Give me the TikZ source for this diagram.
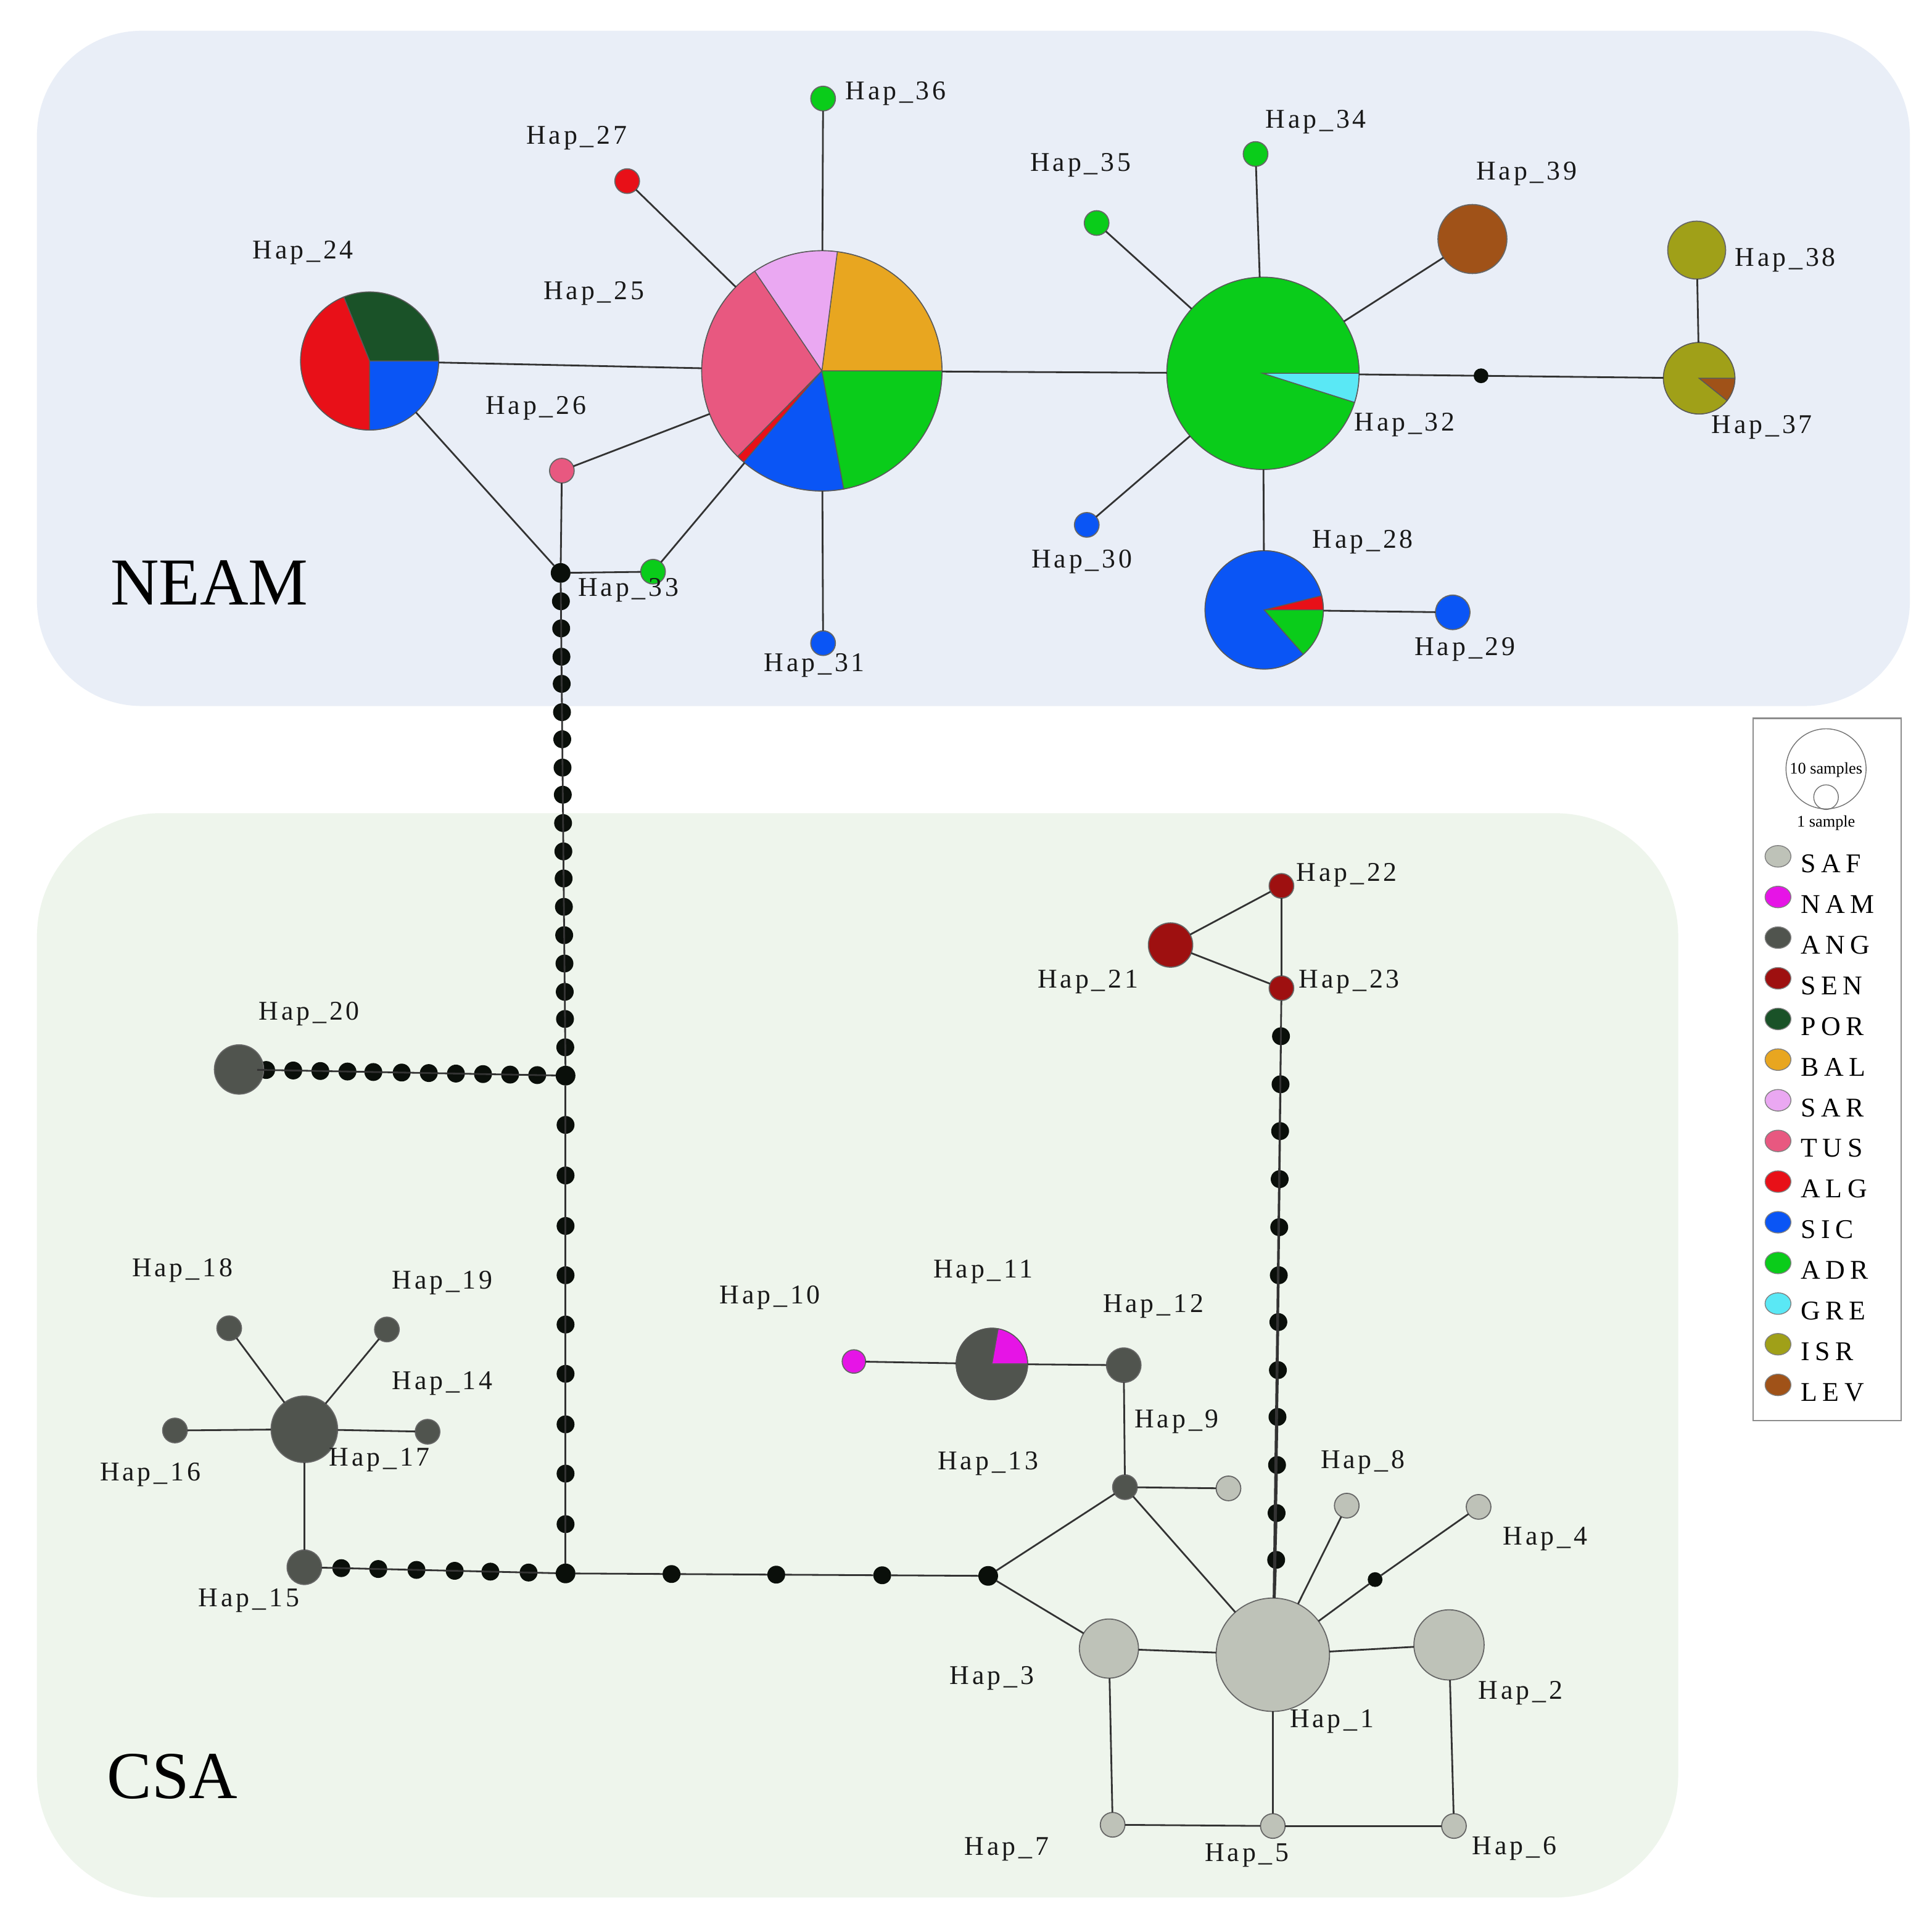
\documentclass[tikz,border=0pt]{standalone}
\usepackage{fontspec}
\setmainfont{Liberation Serif}
\newfontfamily\labfont{Liberation Serif}[LetterSpace=11]
\newfontfamily\legfont{Liberation Serif}[LetterSpace=20]
\usetikzlibrary{shapes.geometric}
\definecolor{SAF}{HTML}{BEC2B8}
\definecolor{NAM}{HTML}{E614E6}
\definecolor{ANG}{HTML}{50544E}
\definecolor{SEN}{HTML}{9E1010}
\definecolor{POR}{HTML}{1A5228}
\definecolor{BAL}{HTML}{E8A620}
\definecolor{SAR}{HTML}{EAA8F2}
\definecolor{TUS}{HTML}{E85880}
\definecolor{ALG}{HTML}{E81018}
\definecolor{SIC}{HTML}{0A55F5}
\definecolor{ADR}{HTML}{0ACC1A}
\definecolor{GRE}{HTML}{5AE8F5}
\definecolor{ISR}{HTML}{A0A018}
\definecolor{LEV}{HTML}{A05218}
\definecolor{neamfill}{HTML}{E9EEF7}
\definecolor{csafill}{HTML}{EEF5EC}
\definecolor{dotc}{HTML}{0A0F0A}
\newcommand\pieslice[5]{\filldraw[fill=#5, draw=black!65, line width=0.4pt] (#1.center) -- ++(#3:#2) arc[start angle=#3, end angle=#4, radius=#2] -- cycle;}
\begin{document}
\begin{tikzpicture}[x=0.02cm, y=-0.02cm,
  edge/.style={draw=black!80, line width=0.8pt},
  hap/.style={circle, inner sep=0pt, outer sep=0pt, draw=black!60, line width=0.5pt},
  cdot/.style={circle, inner sep=0pt, outer sep=0pt, fill=dotc, minimum size=0.29cm},
  jdot/.style={cdot, minimum size=0.32cm},
  lab/.style={font=\labfont\fontsize{12.5}{14}\selectfont, inner sep=0pt, text=black!90},
  big/.style={font=\fontsize{31}{33}\selectfont, inner sep=0pt},
]
\useasboundingbox (0,0) rectangle (1568,1557);
\fill[white] (0,0) rectangle (1568,1557);
\fill[neamfill, rounded corners=1.7cm] (30,25) rectangle (1550,573);
\fill[csafill, rounded corners=2cm] (30,660) rectangle (1362,1540);

% ---------------- NEAM nodes ----------------
\node[hap, fill=ALG, minimum size=0.4cm] (h27) at (509,147) {};
\node[hap, fill=ADR, minimum size=0.4cm] (h36) at (668,80) {};
\node[hap, fill=TUS, minimum size=0.4cm] (h26) at (456,382) {};
\node[hap, fill=ADR, minimum size=0.4cm] (h33) at (530,464) {};
\node[hap, fill=SIC, minimum size=0.4cm] (h31) at (668,522) {};
\node[hap, fill=ADR, minimum size=0.4cm] (h35) at (890,181) {};
\node[hap, fill=ADR, minimum size=0.4cm] (h34) at (1019,125) {};
\node[hap, fill=SIC, minimum size=0.4cm] (h30) at (882,426) {};
\node[hap, fill=LEV, minimum size=1.12cm] (h39) at (1195,194) {};
\node[hap, fill=SIC, minimum size=0.56cm] (h29) at (1179,497) {};
\node[hap, fill=ISR, minimum size=0.94cm] (h38) at (1377,203) {};
\node[hap, minimum size=2.24cm] (h24) at (300,293) {};
\node[hap, minimum size=3.9cm] (h25) at (667,301) {};
\node[hap, minimum size=3.12cm] (h32) at (1025,303) {};
\node[hap, minimum size=1.92cm] (h28) at (1026,495) {};
\node[hap, minimum size=1.16cm] (h37) at (1379,307) {};
\node[jdot] (j1) at (455,465) {};
\node[cdot, minimum size=0.24cm] (m1) at (1202,305) {};

% pies
\pieslice{h24}{1.12cm}{0}{112}{POR}
\pieslice{h24}{1.12cm}{112}{270}{ALG}
\pieslice{h24}{1.12cm}{270}{360}{SIC}
\pieslice{h25}{1.95cm}{0}{82.6}{BAL}
\pieslice{h25}{1.95cm}{82.6}{124}{SAR}
\pieslice{h25}{1.95cm}{124}{225.5}{TUS}
\pieslice{h25}{1.95cm}{225.5}{229.5}{ALG}
\pieslice{h25}{1.95cm}{229.5}{280.5}{SIC}
\pieslice{h25}{1.95cm}{280.5}{360}{ADR}
\pieslice{h32}{1.56cm}{0}{342.4}{ADR}
\pieslice{h32}{1.56cm}{342.4}{360}{GRE}
\pieslice{h28}{0.96cm}{0}{14}{ALG}
\pieslice{h28}{0.96cm}{14}{311.4}{SIC}
\pieslice{h28}{0.96cm}{311.4}{360}{ADR}
\pieslice{h37}{0.58cm}{0}{321.3}{ISR}
\pieslice{h37}{0.58cm}{321.3}{360}{LEV}

% NEAM edges
\draw[edge] (h24) -- (h25);
\draw[edge] (h24) -- (j1);
\draw[edge] (j1) -- (h26);
\draw[edge] (h26) -- (h25);
\draw[edge] (j1) -- (h33);
\draw[edge] (h33) -- (h25);
\draw[edge] (h27) -- (h25);
\draw[edge] (h36) -- (h25);
\draw[edge] (h31) -- (h25);
\draw[edge] (h25) -- (h32);
\draw[edge] (h35) -- (h32);
\draw[edge] (h34) -- (h32);
\draw[edge] (h39) -- (h32);
\draw[edge] (h30) -- (h32);
\draw[edge] (h28) -- (h32);
\draw[edge] (h32) -- (m1) -- (h37);
\draw[edge] (h28) -- (h29);
\draw[edge] (h37) -- (h38);

% ---------------- CSA nodes ----------------
\node[jdot] (j2) at (459,873) {};
\node[jdot] (j3) at (459,1277) {};
\node[jdot] (j4) at (802,1279) {};
\foreach \yy [count=\i] in {488,510,533,555,578,600,623,645,668,691,713,736,759,782,805,827,850}{
  \node[cdot] (v\i) at ({455+4*(\yy-465)/408},\yy) {};
}
\foreach \xx [count=\i] in {216,238,260,282,303,326,348,370,392,414,436}{
  \node[cdot] (w\i) at (\xx,{868+5*(\xx-194)/265}) {};
}
\foreach \yy [count=\i] in {913,954,995,1035,1075,1115,1156,1196,1237}{
  \node[cdot] (u\i) at (459,\yy) {};
}
\foreach \xx [count=\i] in {277,307,338,369,398,429}{
  \node[cdot] (p\i) at (\xx,{1272+5*(\xx-247)/212}) {};
}
\foreach \xx [count=\i] in {545,630,716}{
  \node[cdot] (q\i) at (\xx,{1277+2*(\xx-459)/343}) {};
}
\foreach \yy [count=\i] in {841,880,918,957,996,1035,1073,1112,1150,1189,1228,1266}{
  \node[cdot] (r\i) at ({1040-5*(\yy-802)/541},\yy) {};
}
\node[hap, fill=ANG, minimum size=0.8cm] (h20) at (194,868) {};
\node[hap, fill=SEN, minimum size=0.72cm] (h21) at (950,767) {};
\node[hap, fill=SEN, minimum size=0.4cm] (h22) at (1040,719) {};
\node[hap, fill=SEN, minimum size=0.4cm] (h23) at (1040,802) {};
\node[hap, fill=ANG, minimum size=1.08cm] (h17) at (247,1160) {};
\node[hap, fill=ANG, minimum size=0.4cm] (h18) at (186,1078) {};
\node[hap, fill=ANG, minimum size=0.4cm] (h19) at (314,1079) {};
\node[hap, fill=ANG, minimum size=0.4cm] (h16) at (142,1161) {};
\node[hap, fill=ANG, minimum size=0.4cm] (h14) at (347,1162) {};
\node[hap, fill=ANG, minimum size=0.56cm] (h15) at (247,1272) {};
\node[hap, fill=NAM, minimum size=0.38cm] (h10) at (693,1105) {};
\node[hap, minimum size=1.16cm] (h11) at (805,1107) {};
\node[hap, fill=ANG, minimum size=0.56cm] (h12) at (912,1108) {};
\node[hap, fill=ANG, minimum size=0.4cm] (h9) at (913,1207) {};
\node[hap, fill=SAF, minimum size=0.4cm] (h13) at (997,1208) {};
\node[hap, fill=SAF, minimum size=1.84cm] (h1) at (1033,1343) {};
\node[hap, fill=SAF, minimum size=1.14cm] (h2) at (1176,1335) {};
\node[hap, fill=SAF, minimum size=0.96cm] (h3) at (900,1338) {};
\node[hap, fill=SAF, minimum size=0.4cm] (h8) at (1093,1222) {};
\node[hap, fill=SAF, minimum size=0.4cm] (h4) at (1200,1223) {};
\node[cdot, minimum size=0.24cm] (m2) at (1116,1282) {};
\node[hap, fill=SAF, minimum size=0.4cm] (h7) at (903,1481) {};
\node[hap, fill=SAF, minimum size=0.4cm] (h5) at (1033,1482) {};
\node[hap, fill=SAF, minimum size=0.4cm] (h6) at (1180,1482) {};
\pieslice{h11}{0.58cm}{0}{80}{NAM}
\pieslice{h11}{0.58cm}{80}{360}{ANG}

% CSA edges
\draw[edge] (j1) \foreach \i in {1,...,17}{ -- (v\i) } -- (j2);
\draw[edge] (h20) \foreach \i in {1,...,11}{ -- (w\i) } -- (j2);
\draw[edge] (j2) \foreach \i in {1,...,9}{ -- (u\i) } -- (j3);
\draw[edge] (h15) \foreach \i in {1,...,6}{ -- (p\i) } -- (j3);
\draw[edge] (j3) -- (q1) -- (q2) -- (q3) -- (j4);
\draw[edge] (h1) \foreach \i in {12,11,...,1}{ -- (r\i) } -- (h23);
\draw[edge] (h23) -- (h22);
\draw[edge] (h21) -- (h22);
\draw[edge] (h21) -- (h23);
\draw[edge] (h17) -- (h18);
\draw[edge] (h17) -- (h19);
\draw[edge] (h17) -- (h16);
\draw[edge] (h17) -- (h14);
\draw[edge] (h17) -- (h15);
\draw[edge] (j4) -- (h9);
\draw[edge] (j4) -- (h3);
\draw[edge] (h9) -- (h12);
\draw[edge] (h9) -- (h13);
\draw[edge] (h9) -- (h1);
\draw[edge] (h12) -- (h11);
\draw[edge] (h11) -- (h10);
\draw[edge] (h3) -- (h1);
\draw[edge] (h1) -- (h2);
\draw[edge] (h1) -- (h8);
\draw[edge] (h1) -- (m2) -- (h4);
\draw[edge] (h1) -- (h5);
\draw[edge] (h3) -- (h7);
\draw[edge] (h7) -- (h5);
\draw[edge] (h5) -- (h6);
\draw[edge] (h6) -- (h2);

% ---------------- labels ----------------
\node[lab] (t27) at (468,112) {Hap\_27};
\node[lab] (t36) at (727,76) {Hap\_36};
\node[lab] (t24) at (246,205) {Hap\_24};
\node[lab] (t25) at (482,238) {Hap\_25};
\node[lab] (t26) at (435,331) {Hap\_26};
\node[lab] (t33) at (510,479) {Hap\_33};
\node[lab] (t31) at (661,540) {Hap\_31};
\node[lab] (t35) at (877,134) {Hap\_35};
\node[lab] (t34) at (1068,99) {Hap\_34};
\node[lab] (t39) at (1239,141) {Hap\_39};
\node[lab] (t38) at (1449,211) {Hap\_38};
\node[lab] (t32) at (1140,345) {Hap\_32};
\node[lab] (t37) at (1430,347) {Hap\_37};
\node[lab] (t30) at (878,456) {Hap\_30};
\node[lab] (t28) at (1106,440) {Hap\_28};
\node[lab] (t29) at (1189,527) {Hap\_29};
\node[lab] (t20) at (251,823) {Hap\_20};
\node[lab] (t22) at (1093,710) {Hap\_22};
\node[lab] (t21) at (883,797) {Hap\_21};
\node[lab] (t23) at (1095,797) {Hap\_23};
\node[lab] (t18) at (148,1031) {Hap\_18};
\node[lab] (t19) at (359,1041) {Hap\_19};
\node[lab] (t14) at (359,1123) {Hap\_14};
\node[lab] (t16) at (122,1197) {Hap\_16};
\node[lab] (t17) at (308,1185) {Hap\_17};
\node[lab] (t15) at (202,1299) {Hap\_15};
\node[lab] (t10) at (625,1053) {Hap\_10};
\node[lab] (t11) at (798,1032) {Hap\_11};
\node[lab] (t12) at (936,1060) {Hap\_12};
\node[lab] (t9) at (955,1154) {Hap\_9};
\node[lab] (t13) at (802,1188) {Hap\_13};
\node[lab] (t8) at (1106,1187) {Hap\_8};
\node[lab] (t4) at (1254,1249) {Hap\_4};
\node[lab] (t3) at (805,1362) {Hap\_3};
\node[lab] (t1) at (1081,1397) {Hap\_1};
\node[lab] (t2) at (1234,1374) {Hap\_2};
\node[lab] (t7) at (817,1501) {Hap\_7};
\node[lab] (t5) at (1012,1506) {Hap\_5};
\node[lab] (t6) at (1229,1500) {Hap\_6};
\node[big] (neam) at (170,473) {NEAM};
\node[big] (csa) at (140,1442) {CSA};

% ---------------- legend ----------------
\draw[black!45, line width=0.6pt] (1423,583) rectangle (1543,1153);
\node[circle, draw=black!55, line width=0.4pt, minimum size=1.3cm, inner sep=0pt] (lbig) at (1482,624) {};
\node[circle, draw=black!55, line width=0.4pt, minimum size=0.4cm, inner sep=0pt] (lsmall) at (1482,647) {};
\node[font=\fontsize{7.5}{8}\selectfont, inner sep=0pt] (l10) at (1482,625) {10 samples};
\node[font=\fontsize{7.5}{8}\selectfont, inner sep=0pt] (l1) at (1482,668) {1 sample};
\foreach \c [count=\i] in {SAF,NAM,ANG,SEN,POR,BAL,SAR,TUS,ALG,SIC,ADR,GRE,ISR,LEV}{
  \node[ellipse, fill=\c, draw=black!50, line width=0.4pt, minimum width=0.42cm, minimum height=0.35cm, inner sep=0pt] (lg\c) at (1443,{695+33*(\i-1)}) {};
  \node[anchor=west, inner sep=0pt, font=\legfont\fontsize{12.5}{14}\selectfont] (lt\c) at (1461,{701+33*(\i-1)}) {\c};
}
\end{tikzpicture}
\end{document}
